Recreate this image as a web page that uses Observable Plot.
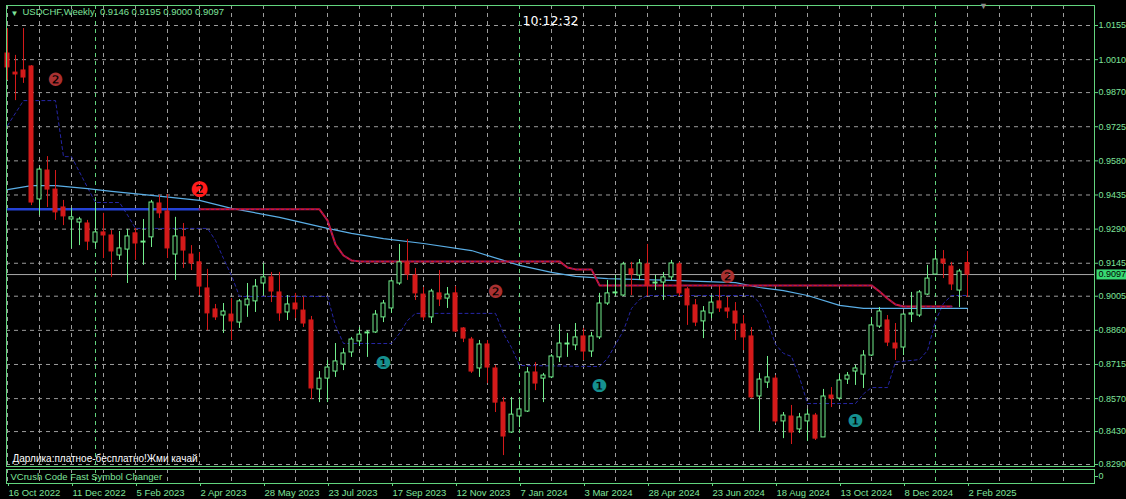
<!DOCTYPE html>
<html><head><meta charset="utf-8">
<script src="https://cdn.jsdelivr.net/npm/d3@7"></script>
<script src="https://cdn.jsdelivr.net/npm/@observablehq/plot@0.6"></script>
<style>
html,body{margin:0;padding:0;background:#000;}
#chart{position:relative;width:1126px;height:499px;background:#000;overflow:hidden;}
#chart svg{display:block;background:#000;}
</style></head><body><div id="chart"></div>
<script>
// ---------- texts ----------
const symbolText = "USDCHF,Weekly";
const clockText = "10:12:32";
const promoText = "Дарлика:платное-бесплатно!Жми качай";
const panelText = "VCrush Code Fast Symbol Changer";

// ---------- weekly candles (bar 0 = week of 16 Oct 2022) ----------
const open = [
1.0036,0.9955,0.9964,0.9981,0.9416,0.9539,0.9458,0.9382,0.9331,0.9318,
0.9314,0.9233,0.9276,0.9263,0.9178,0.9203,0.9272,0.9233,0.9255,0.9399,
0.9365,0.9182,0.9255,0.9182,0.9149,0.9038,0.8949,0.8923,0.8927,0.8893,
0.8966,0.8983,0.9059,0.9085,0.9021,0.8936,0.8974,0.8944,0.8902,0.8609,
0.8655,0.8685,0.8715,0.8766,0.8813,0.8847,0.8851,0.8915,0.8953,0.9059,
0.9149,0.9093,0.9012,0.8915,0.9017,0.8995,0.9017,0.8868,0.8821,0.8698,
0.8800,0.8698,0.8553,0.8426,0.8494,0.8515,0.8681,0.8655,0.8660,0.8745,
0.8800,0.8796,0.8834,0.8770,0.8830,0.8974,0.9017,0.9008,0.9119,0.9093,
0.9140,0.9059,0.9063,0.9085,0.9140,0.9034,0.8966,0.8898,0.8932,0.8983,
0.8953,0.8940,0.8885,0.8834,0.8579,0.8638,0.8655,0.8473,0.8494,0.8439,
0.8473,0.8498,0.8405,0.8583,0.8570,0.8651,0.8685,0.8672,0.8753,0.8876,
0.8902,0.8804,0.8787,0.8927,0.8923,0.9012,0.9097,0.9161,0.9131,0.9029,
0.9146];
const high = [
1.0142,1.0028,1.0142,0.9985,0.9552,0.9598,0.9539,0.9412,0.9378,0.9340,
0.9327,0.9403,0.9357,0.9284,0.9280,0.9289,0.9293,0.9331,0.9412,0.9433,
0.9437,0.9340,0.9314,0.9220,0.9191,0.9119,0.8970,0.8974,0.8995,0.8991,
0.9059,0.9076,0.9144,0.9106,0.9106,0.9008,0.9017,0.9000,0.8919,0.8685,
0.8732,0.8804,0.8783,0.8830,0.8872,0.8859,0.8944,0.8987,0.9072,0.9225,
0.9246,0.9123,0.9042,0.9034,0.9114,0.9042,0.9046,0.8872,0.8830,0.8817,
0.8817,0.8711,0.8575,0.8575,0.8562,0.8702,0.8723,0.8677,0.8757,0.8885,
0.8847,0.8889,0.8868,0.8851,0.9017,0.9072,0.9093,0.9149,0.9149,0.9161,
0.9225,0.9093,0.9106,0.9157,0.9149,0.9042,0.8991,0.8961,0.9008,0.9051,
0.9000,0.8978,0.8923,0.8872,0.8677,0.8749,0.8668,0.8511,0.8541,0.8507,
0.8524,0.8507,0.8609,0.8617,0.8672,0.8681,0.8711,0.8774,0.8915,0.8957,
0.8923,0.8889,0.8932,0.9021,0.9029,0.9136,0.9199,0.9199,0.9149,0.9119,
0.9195];
const low = [
0.9922,0.9836,0.9909,0.9390,0.9348,0.9382,0.9327,0.9305,0.9208,0.9220,
0.9199,0.9212,0.9165,0.9085,0.9157,0.9059,0.9157,0.9136,0.9212,0.9335,
0.9165,0.9072,0.9123,0.9114,0.9008,0.8859,0.8902,0.8847,0.8817,0.8868,
0.8915,0.8936,0.9008,0.8978,0.8898,0.8902,0.8910,0.8872,0.8566,0.8553,
0.8553,0.8660,0.8689,0.8745,0.8791,0.8745,0.8847,0.8893,0.8932,0.9051,
0.9072,0.8987,0.8902,0.8889,0.8961,0.8953,0.8851,0.8808,0.8677,0.8660,
0.8634,0.8511,0.8328,0.8422,0.8447,0.8511,0.8604,0.8553,0.8655,0.8723,
0.8745,0.8774,0.8732,0.8745,0.8821,0.8966,0.9004,0.9004,0.9008,0.9072,
0.9004,0.9029,0.8987,0.9072,0.9004,0.8881,0.8876,0.8825,0.8910,0.8936,
0.8910,0.8817,0.8774,0.8570,0.8430,0.8613,0.8464,0.8400,0.8375,0.8422,
0.8388,0.8392,0.8405,0.8532,0.8562,0.8630,0.8626,0.8613,0.8749,0.8868,
0.8791,0.8732,0.8753,0.8893,0.8915,0.9008,0.9093,0.9080,0.9029,0.8957,
0.9000];
const close = [
0.9977,0.9947,0.9934,0.9403,0.9543,0.9458,0.9361,0.9344,0.9340,0.9331,
0.9237,0.9276,0.9263,0.9195,0.9208,0.9259,0.9229,0.9237,0.9403,0.9357,
0.9208,0.9259,0.9199,0.9144,0.9046,0.8932,0.8915,0.8940,0.8898,0.8983,
0.8991,0.9046,0.9085,0.9025,0.8932,0.8970,0.8949,0.8889,0.8613,0.8655,
0.8702,0.8728,0.8762,0.8821,0.8842,0.8851,0.8927,0.8974,0.9068,0.9149,
0.9097,0.9017,0.8915,0.9025,0.8991,0.9012,0.8855,0.8825,0.8685,0.8800,
0.8702,0.8553,0.8409,0.8502,0.8524,0.8681,0.8634,0.8668,0.8749,0.8804,
0.8804,0.8830,0.8770,0.8834,0.8974,0.9017,0.9021,0.9140,0.9097,0.9144,
0.9051,0.9063,0.9085,0.9144,0.9017,0.8966,0.8893,0.8940,0.8978,0.8953,
0.8940,0.8889,0.8830,0.8575,0.8651,0.8660,0.8473,0.8498,0.8426,0.8490,
0.8502,0.8400,0.8579,0.8570,0.8647,0.8668,0.8698,0.8753,0.8881,0.8940,
0.8808,0.8783,0.8927,0.8932,0.9021,0.9080,0.9161,0.9144,0.9055,0.9110,
0.9097];

// ---------- axis ticks ----------
const dateLabelBars = [0,8,16,24,32,40,48,56,64,72,80,88,96,104,112,120];
const dateLabels = ["16 Oct 2022","11 Dec 2022","5 Feb 2023","2 Apr 2023","28 May 2023","23 Jul 2023",
  "17 Sep 2023","12 Nov 2023","7 Jan 2024","3 Mar 2024","28 Apr 2024","23 Jun 2024","18 Aug 2024",
  "13 Oct 2024","8 Dec 2024","2 Feb 2025"];
const priceTicks = [1.0155,1.0010,0.9870,0.9725,0.9580,0.9435,0.9290,0.9145,0.9005,0.8860,0.8715,0.8570,0.8430,0.8290];
const gridBars = [0,4,8,12,16,20,24,28,32,36,40,44,48,52,56,60,64,68,72,76,80,84,88,92,96,100,104,108,112,116,120,124,128,132];
const yearSeparatorBars = [11,64,116];
const chartShiftBar = [122];

// ---------- indicators ----------
const maBars   = [0,3,6,10,13,18,24,28,34,40,43,47,52,58,62,64,68,71,75,83,91,94,97,100,104,107,120];
const maValues = [0.9458,0.9475,0.9475,0.9462,0.9450,0.9433,0.9412,0.9378,0.9340,0.9293,0.9272,0.9250,0.9229,0.9199,0.9157,0.9136,0.9106,0.9089,0.9080,0.9072,0.9063,0.9042,0.9029,0.9008,0.8966,0.8953,0.8953];

const stopBars   = [24,39,40,41,42,43,44,69,70,71,73,74,108,109,110,111,112,118];
const stopValues = [0.9374,0.9374,0.9327,0.9225,0.9178,0.9157,0.9153,0.9153,0.9127,0.9119,0.9119,0.9051,0.9051,0.9025,0.8995,0.8970,0.8961,0.8961];

const upBars   = [0,24];
const upValues = [0.9374,0.9374];

const bandBars   = [0,2,6,7,8,10,11,14,15,16,25,26,27,28,29,40,41,42,48,49,50,51,61,62,63,64,74,75,76,77,78,79,80,93,94,95,96,97,98,99,100,106,107,108,110,111,114,115,116,117,118,120];
const bandValues = [0.9730,0.9836,0.9836,0.9598,0.9598,0.9467,0.9403,0.9403,0.9350,0.9293,0.9293,0.9242,0.9165,0.9093,0.9004,0.9004,0.8880,0.8804,0.8804,0.8847,0.8902,0.8932,0.8932,0.8847,0.8787,0.8711,0.8706,0.8740,0.8800,0.8859,0.8953,0.8991,0.9008,0.9008,0.8978,0.8902,0.8800,0.8762,0.8749,0.8660,0.8549,0.8549,0.8590,0.8617,0.8617,0.8725,0.8736,0.8774,0.8900,0.8975,0.9008,0.9008];

const signalBars   = [6,24,47,61,74,90,106];
const signalPrices = [0.9922,0.9454,0.8719,0.9021,0.8621,0.9085,0.8473];
const signalKinds  = ["sell","sellActive","buy","sell","buy","sell","buy"];

// ---------- build ----------
const candles = open.map((o, i) => ({i, open: o, high: high[i], low: low[i], close: close[i]}));
const pts = (bars, vals) => bars.map((b, k) => ({i: b, v: vals[k]}));
const ma = pts(maBars, maValues), stop = pts(stopBars, stopValues), up = pts(upBars, upValues), band = pts(bandBars, bandValues);
const signalGlyph = {sell: "\u2777", sellActive: "\u2777", buy: "\u2776"};
const signalColor = {sell: "#a93131", sellActive: "#ff1c1c", buy: "#16908f"};
const signalSize  = {sell: 18, sellActive: 21, buy: 18};
const signals = signalBars.map((b, k) => ({i: b, p: signalPrices[k], kind: signalKinds[k]}));
const last = candles[candles.length - 1];
const labelByBar = new Map(dateLabelBars.map((b, k) => [b, dateLabels[k]]));
const tagText = last.close.toFixed(4);

const FG = "#62d47e", TXT = "#7fe39a", GRID = "#9c9c9c", BULL = "#72ee8c", BEAR = "#d41a1a";
const NAVY = "#2626a6", SKY = "#5aaee6", CRIMSON = "#d0163a", ROYAL = "#2442d6";
const xDomain = [-0.125, 135.875];
const FONT = "'Liberation Sans', Arial, sans-serif";

const main = Plot.plot({
  width: 1126, height: 468,
  marginLeft: 6, marginRight: 32, marginTop: 5, marginBottom: 2,
  style: {background: "#000", fontFamily: FONT, fontSize: "9px", color: TXT},
  x: {domain: xDomain, axis: null},
  y: {domain: [0.82816, 1.02400], axis: null},
  color: {type: "identity"},
  marks: [
    Plot.ruleY(priceTicks, {stroke: GRID, strokeDasharray: "4,4"}),
    Plot.ruleX(gridBars, {stroke: GRID, strokeDasharray: "4,4"}),
    Plot.ruleX(yearSeparatorBars, {stroke: FG, strokeDasharray: "4,4"}),
    Plot.ruleY([last.close], {stroke: "#a8a8a8"}),
    Plot.line(band, {x: "i", y: "v", stroke: NAVY, strokeWidth: 1, strokeDasharray: "3,3"}),
    Plot.line(ma, {x: "i", y: "v", stroke: SKY, strokeWidth: 1.2}),
    Plot.line(up, {x: "i", y: "v", stroke: ROYAL, strokeWidth: 2.5}),
    Plot.line(stop, {x: "i", y: "v", stroke: CRIMSON, strokeWidth: 2, curve: "linear"}),
    Plot.line(stop, {x: "i", y: "v", stroke: NAVY, strokeWidth: 0.8, strokeDasharray: "1,4"}),
    Plot.ruleX(candles, {x: "i", y1: "low", y2: "high", stroke: d => d.close >= d.open ? BULL : BEAR}),
    Plot.rect(candles, {x1: d => d.i - 0.25, x2: d => d.i + 0.25, y1: "open", y2: "close",
      fill: d => d.close >= d.open ? "#000" : BEAR, stroke: d => d.close >= d.open ? BULL : BEAR, strokeWidth: 1}),
    Plot.text(signals, {x: "i", y: "p", text: d => signalGlyph[d.kind], fill: d => signalColor[d.kind],
      fontSize: d => signalSize[d.kind], fontFamily: "'DejaVu Sans', sans-serif"}),
    Plot.axisY(priceTicks, {anchor: "right", tickSize: 3, tickPadding: 1, tickFormat: d3.format(".4f"),
      stroke: FG, fill: TXT, fontSize: 9, fontFamily: FONT}),
    Plot.frame({stroke: FG}),
    Plot.text(["\u25BC"], {frameAnchor: "top-left", dx: 4, dy: 5, fill: TXT, fontSize: 8}),
    Plot.text([`${symbolText}  ${last.open.toFixed(4)} ${last.high.toFixed(4)} ${last.low.toFixed(4)} ${last.close.toFixed(4)}`],
      {frameAnchor: "top-left", dx: 16, dy: 3, fill: TXT, fontSize: 9.5, fontFamily: FONT}),
    Plot.text([clockText], {frameAnchor: "top", dy: 11, fill: "#ffffff", fontSize: 12.5, fontFamily: "'DejaVu Sans', sans-serif"}),
    Plot.text([promoText], {frameAnchor: "bottom-left", dx: 6, dy: -5, fill: "#ffffff", fontSize: 10, fontFamily: FONT}),
    Plot.text(chartShiftBar, {x: d => d, frameAnchor: "top", dy: -3, text: () => "\u25BC", fill: "#8a8a8a", fontSize: 9}),
    Plot.text([last.close], {y: d => d, frameAnchor: "right", dx: 4, textAnchor: "start", text: () => tagText,
      fill: "#000000", fontSize: 9, fontFamily: FONT})
  ]
});

const sub = Plot.plot({
  width: 1126, height: 31,
  marginLeft: 6, marginRight: 32, marginTop: 1, marginBottom: 16,
  style: {background: "#000", fontFamily: FONT, fontSize: "9px", color: TXT},
  x: {domain: xDomain, axis: null},
  y: {domain: [-1, 1], axis: null},
  marks: [
    Plot.ruleX(gridBars, {stroke: GRID, strokeDasharray: "4,4"}),
    Plot.ruleX(yearSeparatorBars, {stroke: FG, strokeDasharray: "4,4"}),
    Plot.axisX(dateLabelBars, {anchor: "bottom", tickSize: 3, tickPadding: 3, tickFormat: d => labelByBar.get(d),
      textAnchor: "start", dx: 1, stroke: FG, fill: TXT, fontSize: 9.5, fontFamily: FONT}),
    Plot.axisY([0], {anchor: "right", tickSize: 3, tickPadding: 1, tickFormat: () => "0", stroke: FG, fill: TXT, fontSize: 9}),
    Plot.text([panelText], {frameAnchor: "left", dx: 4, fill: TXT, fontSize: 9.5, fontFamily: FONT}),
    Plot.frame({stroke: FG})
  ]
});

const host = document.getElementById("chart");
host.appendChild(main);
host.appendChild(sub);

// green background behind the current-price tag (same local frame as the text)
for (const t of main.querySelectorAll("text")) {
  if (t.textContent === tagText) {
    const bb = t.getBBox();
    const r = document.createElementNS("http://www.w3.org/2000/svg", "rect");
    r.setAttribute("x", bb.x - 2);
    r.setAttribute("y", bb.y);
    r.setAttribute("width", bb.width + 10);
    r.setAttribute("height", bb.height);
    r.setAttribute("fill", "#38d872");
    const tr = t.getAttribute("transform");
    if (tr) r.setAttribute("transform", tr);
    t.parentNode.insertBefore(r, t);
  }
}
</script></body></html>
